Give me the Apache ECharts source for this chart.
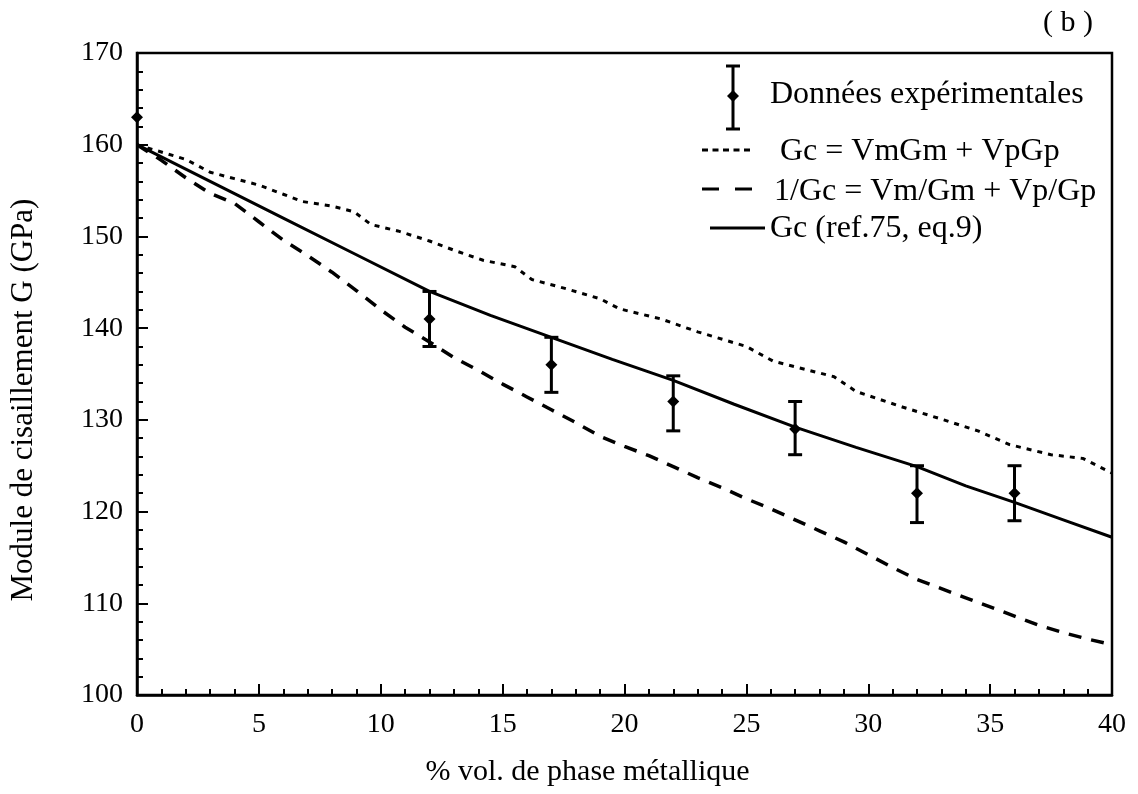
<!DOCTYPE html>
<html><head><meta charset="utf-8">
<script src="https://cdn.jsdelivr.net/npm/echarts@6/dist/echarts.min.js"></script>
<style>html,body{margin:0;padding:0;background:#fff}#c{width:1138px;height:794px}</style>
</head><body><div id="c"></div>
<script>
// Experimental data
const expX = [0, 12, 17, 22, 27, 32, 36];
const expY = [163, 141, 136, 132, 129, 122, 122];
const expLow = [163, 138, 133, 128.8, 126.2, 118.8, 119];
const expHigh = [163, 144, 139, 134.8, 132, 125, 125];

// Gc = VmGm + VpGp (dotted)
const voigtX = [0, 1, 2, 3, 4, 5, 6, 6.8, 8, 8.9, 9.6, 10.7, 12, 13, 14.2, 15.5, 16.2, 17.6, 19, 19.8, 21.5, 23, 25, 26.1, 28.6, 29.5, 31.4, 33.1, 34.5, 35.8, 37.5, 38.8, 40];
const voigtY = [160, 159.2, 158.4, 157.0, 156.3, 155.6, 154.6, 153.8, 153.3, 152.7, 151.3, 150.6, 149.5, 148.5, 147.4, 146.7, 145.3, 144.3, 143.2, 142.1, 141.0, 139.6, 138.0, 136.4, 134.7, 133.1, 131.4, 130.0, 128.8, 127.3, 126.2, 125.8, 124.2];

// 1/Gc = Vm/Gm + Vp/Gp (dashed)
const reussX = [0, 1, 2, 3, 4, 5, 6, 7, 8, 9, 10, 11, 12, 13, 14, 15, 16, 17, 18, 19, 20, 21, 22, 23, 24, 25, 26, 27, 28, 29, 30, 31, 32, 33, 34, 35, 36, 37, 38, 39, 40];
const reussY = [160, 158.3, 156.4, 154.7, 153.6, 151.6, 149.6, 147.9, 146.1, 144.1, 142.0, 140.1, 138.5, 136.8, 135.4, 133.9, 132.5, 131.1, 129.7, 128.2, 127.1, 126.1, 124.9, 123.7, 122.6, 121.4, 120.3, 119.1, 117.9, 116.7, 115.3, 113.9, 112.6, 111.6, 110.6, 109.6, 108.6, 107.6, 106.8, 106.1, 105.5];

// Gc (ref.75, eq.9) (solid)
const modelX = [0, 3, 6, 9, 12, 14.5, 17, 19.5, 22, 24.5, 27, 29.5, 32, 34, 36, 38, 40];
const modelY = [160, 156, 152, 148, 144, 141.4, 139, 136.6, 134.3, 131.7, 129.2, 127.0, 124.9, 122.8, 121.0, 119.1, 117.2];

const xTicks = { min: 0, max: 40, interval: 5 };
const yTicks = { min: 100, max: 170, interval: 10 };

const legendNames = ['Données expérimentales', 'Gc = VmGm + VpGp', '1/Gc = Vm/Gm + Vp/Gp', 'Gc (ref.75, eq.9)'];
const xTitle = '% vol. de phase métallique';
const yTitle = 'Module de cisaillement G (GPa)';
const panelLabel = '( b )';

const zip = (a, b) => a.map((v, i) => [v, b[i]]);
const FONT = '"Liberation Serif", "Times New Roman", serif';

const chart = echarts.init(document.getElementById('c'), null, { renderer: 'canvas' });

function diamond(cx, cy, r) {
  return { type: 'polygon', shape: { points: [[cx, cy - r], [cx + r, cy], [cx, cy + r], [cx - r, cy]] }, style: { fill: '#000' } };
}

const option = {
  animation: false,
  backgroundColor: '#fff',
  grid: { left: 136, right: 26, top: 53, bottom: 99, show: true, borderColor: '#000', borderWidth: 2.5, backgroundColor: 'transparent' },
  xAxis: {
    type: 'value', min: xTicks.min, max: xTicks.max, interval: xTicks.interval,
    name: xTitle, nameLocation: 'middle', nameGap: 62,
    nameTextStyle: { fontFamily: FONT, fontSize: 30, color: '#000', padding: [0, 74, 0, 0] },
    axisLine: { show: true, lineStyle: { color: '#000', width: 2.5 } },
    axisTick: { show: true, inside: true, length: 11, lineStyle: { color: '#000', width: 2 } },
    minorTick: { show: true, splitNumber: 5, length: 6, lineStyle: { color: '#000', width: 2 } },
    axisLabel: { fontFamily: FONT, fontSize: 28, color: '#000', margin: 16 },
    splitLine: { show: false }
  },
  yAxis: {
    type: 'value', min: yTicks.min, max: yTicks.max, interval: yTicks.interval,
    name: yTitle, nameLocation: 'middle', nameGap: 98, nameRotate: 90,
    nameTextStyle: { fontFamily: FONT, fontSize: 31, color: '#000', padding: [0, 52, 0, 0] },
    axisLine: { show: true, lineStyle: { color: '#000', width: 2.5 } },
    axisTick: { show: true, inside: true, length: 11, lineStyle: { color: '#000', width: 2 } },
    minorTick: { show: true, splitNumber: 5, length: 6, lineStyle: { color: '#000', width: 2 } },
    axisLabel: { fontFamily: FONT, fontSize: 28, color: '#000', margin: 14 },
    splitLine: { show: false }
  },
  series: [
    {
      name: legendNames[1], type: 'line', data: zip(voigtX, voigtY), symbol: 'none', smooth: false,
      lineStyle: { color: '#000', width: 3, type: [5, 6] }, z: 3
    },
    {
      name: legendNames[2], type: 'line', data: zip(reussX, reussY), symbol: 'none', smooth: false,
      lineStyle: { color: '#000', width: 3.5, type: [13, 10] }, z: 3
    },
    {
      name: legendNames[3], type: 'line', data: zip(modelX, modelY), symbol: 'none', smooth: false,
      lineStyle: { color: '#000', width: 3 }, z: 3
    },
    {
      name: legendNames[0], type: 'custom', clip: false, z: 5,
      data: expX.map((x, i) => [x, expY[i], expLow[i], expHigh[i]]),
      renderItem: function (params, api) {
        const x = api.value(0), y = api.value(1), lo = api.value(2), hi = api.value(3);
        const c = api.coord([x, y]);
        const children = [];
        if (hi - lo > 0.01) {
          const pl = api.coord([x, lo]), ph = api.coord([x, hi]);
          const st = { stroke: '#000', lineWidth: 3 };
          children.push({ type: 'line', shape: { x1: pl[0], y1: pl[1], x2: ph[0], y2: ph[1] }, style: st });
          children.push({ type: 'line', shape: { x1: pl[0] - 7, y1: pl[1], x2: pl[0] + 7, y2: pl[1] }, style: st });
          children.push({ type: 'line', shape: { x1: ph[0] - 7, y1: ph[1], x2: ph[0] + 7, y2: ph[1] }, style: st });
        }
        children.push(diamond(c[0], c[1], 6));
        return { type: 'group', children: children };
      }
    }
  ],
  graphic: [
    { type: 'text', left: 1043, top: 8, style: { text: panelLabel, font: '30px ' + FONT, fill: '#000' } },
    // legend: error-bar item
    { type: 'line', shape: { x1: 733, y1: 66, x2: 733, y2: 129 }, style: { stroke: '#000', lineWidth: 3 } },
    { type: 'line', shape: { x1: 726, y1: 66, x2: 740, y2: 66 }, style: { stroke: '#000', lineWidth: 3 } },
    { type: 'line', shape: { x1: 726, y1: 129, x2: 740, y2: 129 }, style: { stroke: '#000', lineWidth: 3 } },
    { type: 'polygon', shape: { points: [[733, 90], [739, 96], [733, 102], [727, 96]] }, style: { fill: '#000' } },
    { type: 'text', x: 770, y: 95, style: { text: legendNames[0], font: '32px ' + FONT, fill: '#000', verticalAlign: 'middle' } },
    // dotted
    { type: 'line', shape: { x1: 702, y1: 150, x2: 754, y2: 150 }, style: { stroke: '#000', lineWidth: 3, lineDash: [6, 4.5] } },
    { type: 'text', x: 780, y: 152, style: { text: legendNames[1], font: '32px ' + FONT, fill: '#000', verticalAlign: 'middle' } },
    // dashed
    { type: 'line', shape: { x1: 702, y1: 189, x2: 752, y2: 189 }, style: { stroke: '#000', lineWidth: 3, lineDash: [17, 16] } },
    { type: 'text', x: 774, y: 192, style: { text: legendNames[2], font: '32px ' + FONT, fill: '#000', verticalAlign: 'middle' } },
    // solid
    { type: 'line', shape: { x1: 710, y1: 228, x2: 765, y2: 228 }, style: { stroke: '#000', lineWidth: 3 } },
    { type: 'text', x: 770, y: 229, style: { text: legendNames[3], font: '32px ' + FONT, fill: '#000', verticalAlign: 'middle' } }
  ]
};
chart.setOption(option);
</script>
</body></html>
